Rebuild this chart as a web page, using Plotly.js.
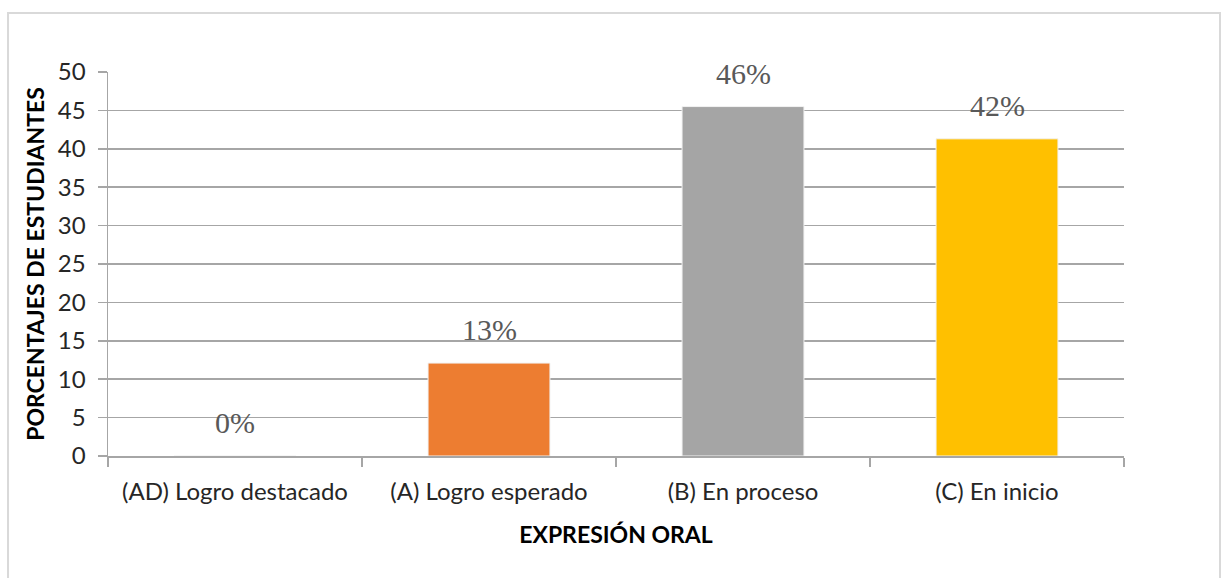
<!DOCTYPE html>
<html>
<head>
<meta charset="utf-8">
<script src="https://cdn.plot.ly/plotly-3.0.1.min.js"></script>
<style>
  html, body { margin: 0; padding: 0; background: #ffffff; }
  #chart { width: 1227px; height: 578px; }
</style>
</head>
<body>
<div id="chart"></div>
<script>
const categories = ['(AD) Logro destacado', '(A) Logro esperado', '(B) En proceso', '(C) En inicio'];
const values = [0, 12.1, 45.5, 41.3];
const labels = ['0%', '13%', '46%', '42%'];
const colors = ['#5B9BD5', '#ED7D31', '#A5A5A5', '#FFC000'];
const yTicks = [0, 5, 10, 15, 20, 25, 30, 35, 40, 45, 50];

const trace = {
  type: 'bar',
  x: categories,
  y: values,
  marker: { color: colors, line: { color: '#f2f2f2', width: 1 } },
  hoverinfo: 'skip'
};

const annotations = categories.map((c, i) => ({
  x: c, y: values[i], xref: 'x', yref: 'y',
  text: labels[i], showarrow: false,
  yanchor: 'bottom', yshift: 15,
  font: { family: 'Liberation Serif, Times New Roman, serif', size: 30, color: '#595959' }
}));

const layout = {
  width: 1227, height: 578,
  margin: { l: 108, r: 103, t: 72, b: 122 },
  paper_bgcolor: '#ffffff', plot_bgcolor: '#ffffff',
  showlegend: false,
  bargap: 0.52,
  font: { family: 'Lato, Open Sans, sans-serif', size: 24, color: '#404040' },
  xaxis: {
    type: 'category',
    tickson: 'boundaries', ticks: 'outside', ticklen: 9, tickcolor: '#a6a6a6', tickwidth: 1.5,
    showline: true, linecolor: '#a6a6a6', linewidth: 1.5,
    showgrid: false, zeroline: false,
    tickfont: { size: 24, color: '#262626' },
    ticklabelstandoff: 14,
    title: { text: '<b>EXPRESIÓN ORAL</b>', font: { size: 23, color: '#000000' }, standoff: 22 }
  },
  yaxis: {
    range: [0, 50], tickvals: yTicks, ticktext: yTicks.map(String),
    ticks: 'outside', ticklen: 9, tickcolor: '#a6a6a6', tickwidth: 1.5,
    showline: true, linecolor: '#a6a6a6', linewidth: 1.5,
    showgrid: true, gridcolor: '#a6a6a6', gridwidth: 1.5,
    zeroline: false,
    tickfont: { size: 24, color: '#262626' },
    ticklabelstandoff: 7,
    title: { text: '<b>PORCENTAJES DE ESTUDIANTES</b>', font: { size: 23, color: '#000000' }, standoff: 7 }
  },
  annotations: annotations,
  shapes: [{
    type: 'rect', xref: 'paper', yref: 'paper', layer: 'below',
    x0: -0.0984, x1: 1.0945, y0: -0.36, y1: 1.1536,
    line: { color: '#d9d9d9', width: 2 }, fillcolor: 'rgba(0,0,0,0)'
  }]
};

Plotly.newPlot('chart', [trace], layout, { displayModeBar: false, staticPlot: true });
</script>
</body>
</html>
